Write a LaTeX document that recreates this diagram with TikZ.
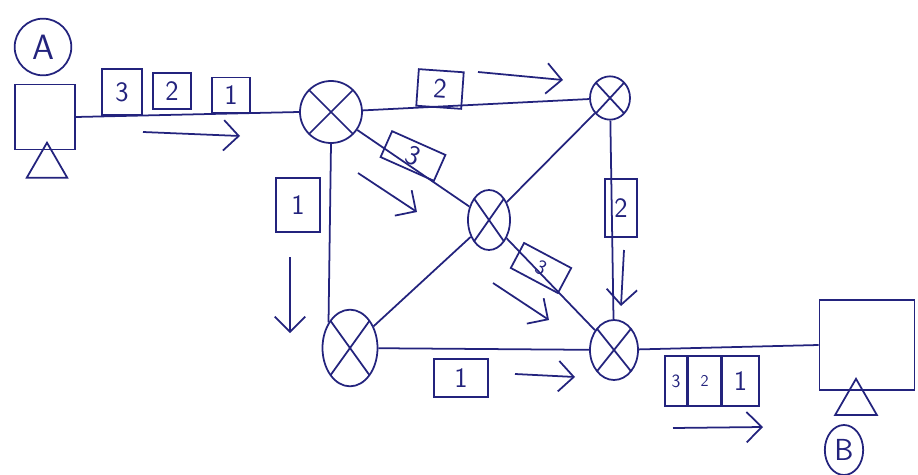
\documentclass[tikz,border=0pt]{standalone}
\usepackage{tikz}
\usetikzlibrary{positioning, shapes.geometric, arrows.meta}
\definecolor{ink}{RGB}{35,35,125}

\begin{document}
\begin{tikzpicture}[
  x=0.03cm, y=-0.03cm,
  ink, line width=1.5pt,
  router/.style={draw, ellipse, inner sep=0pt,
    path picture={\draw[line width=1.5pt] (path picture bounding box.north west) -- (path picture bounding box.south east)
      (path picture bounding box.north east) -- (path picture bounding box.south west);}},
  pkt/.style={draw, inner sep=1pt, font=\sffamily\fontsize{24}{26}\selectfont},
  host/.style={draw, minimum width=1.8cm, minimum height=1.95cm},
  tri/.style={draw, regular polygon, regular polygon sides=3, inner sep=0pt},
  flow/.style={-{Straight Barb[length=13pt, width=26pt, line width=1.5pt]}}
]
  \useasboundingbox (0,0) rectangle (918,475);

  % hosts
  \node[host] (hostA) at (45,117) {};
  \node[tri, minimum size=1.4cm] (triA) at (47,166) {};
  \node[draw, circle, minimum size=1.7cm, font=\sffamily\fontsize{30}{32}\selectfont] (lblA) at (43,47) {A};
  \node[host, minimum width=2.85cm, minimum height=2.7cm] (hostB) at (867,345) {};
  \node[tri, minimum size=1.45cm] (triB) at (856,403) {};
  \node[draw, ellipse, minimum width=1.15cm, minimum height=1.5cm, inner sep=0pt, font=\sffamily\fontsize{26}{28}\selectfont] (lblB) at (844,450) {B};

  % routers
  \node[router, minimum width=1.86cm, minimum height=1.86cm] (R1) at (331,112) {};
  \node[router, minimum width=1.2cm, minimum height=1.3cm] (R2) at (610,98) {};
  \node[router, minimum width=1.26cm, minimum height=1.8cm] (R3) at (489,220) {};
  \node[router, minimum width=1.65cm, minimum height=2.3cm] (R4) at (350,348) {};
  \node[router, minimum width=1.44cm, minimum height=1.8cm] (R5) at (614,350) {};

  % links
  \draw (hostA.east) -- (R1.west);
  \draw (R1) -- (R2);
  \draw (R1) -- (R3);
  \draw (R1.south) -- (R4.130);
  \draw (R2) -- (R3) -- (R4);
  \draw (R3) -- (R5);
  \draw (R2) -- (R5);
  \draw (R4) -- (R5);
  \draw (R5) -- (hostB.west);

  % packets leaving A
  \node[pkt, minimum width=1.2cm, minimum height=1.4cm] (pA3) at (122,92) {3};
  \node[pkt, minimum width=1.15cm, minimum height=1.1cm] (pA2) at (172,91) {2};
  \node[pkt, minimum width=1.15cm, minimum height=1.05cm] (pA1) at (231,95) {1};

  % packets on the links
  \node[pkt, minimum width=1.35cm, minimum height=1.1cm, rotate=-4] (p12) at (440,89) {2};
  \node[pkt, minimum width=1.75cm, minimum height=0.85cm, rotate=-24] (p13) at (413,156) {3};
  \node[pkt, minimum width=1.3cm, minimum height=1.6cm] (p14) at (298,205) {1};
  \node[pkt, minimum width=0.95cm, minimum height=1.75cm] (p25) at (621,208) {2};
  \node[pkt, minimum width=1.6cm, minimum height=0.85cm, rotate=-28, font=\sffamily\fontsize{18}{20}\selectfont] (p35) at (541,268) {3};
  \node[pkt, minimum width=1.6cm, minimum height=1.15cm] (p45) at (461,378) {1};

  % packets reaching B
  \node[pkt, minimum width=0.66cm, minimum height=1.5cm, font=\sffamily\fontsize{16}{18}\selectfont] (pB3) at (676,381) {3};
  \node[pkt, minimum width=1cm, minimum height=1.5cm, font=\sffamily\fontsize{14}{16}\selectfont, right=-0.75pt of pB3] (pB2) {2};
  \node[pkt, minimum width=1.1cm, minimum height=1.5cm, right=-0.75pt of pB2] (pB1) {1};

  % direction of travel
  \draw[flow] (143,132) -- (240,136);
  \draw[flow] (478,72) -- (563,80);
  \draw[flow] (358,173) -- (417,212);
  \draw[flow] (290,257) -- (290,333);
  \draw[flow] (624,250) -- (621,306);
  \draw[flow] (493,283) -- (549,320);
  \draw[flow] (515,374) -- (575,377);
  \draw[flow] (673,428) -- (763,427);
\end{tikzpicture}
\end{document}
